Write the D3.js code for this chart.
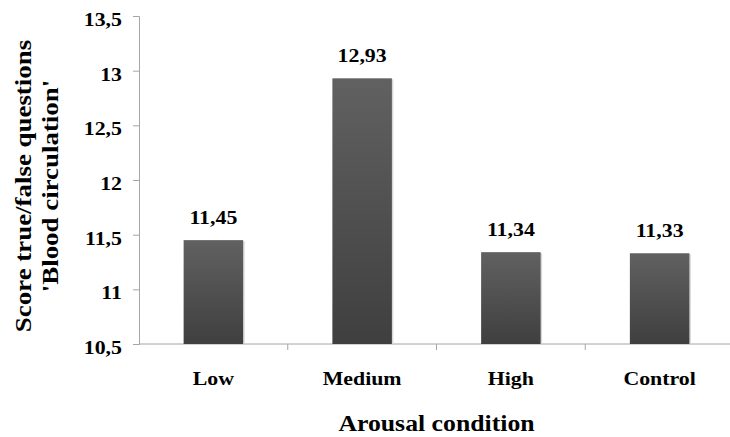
<!DOCTYPE html>
<html>
<head>
<meta charset="utf-8">
<script src="https://cdn.jsdelivr.net/npm/d3@7"></script>
<style>
  body { margin: 0; background: #fff; }
</style>
</head>
<body>
<div id="chart"></div>
<script>
var categories = ["Low", "Medium", "High", "Control"];
var scores = [11.45, 12.93, 11.34, 11.33];
var valueLabels = ["11,45", "12,93", "11,34", "11,33"];
var yTicks = [10.5, 11, 11.5, 12, 12.5, 13, 13.5];

var width = 730, height = 437;
var margin = {left: 139, right: -4, top: 16, bottom: 93};
var serif = "'Liberation Serif'";
var stretch = 1.15; // the original font is wider than Liberation Serif

var svg = d3.select("#chart").append("svg")
    .attr("width", width)
    .attr("height", height);

var defs = svg.append("defs");
var grad = defs.append("linearGradient")
    .attr("id", "barGrad")
    .attr("x1", 0).attr("y1", 0).attr("x2", 0).attr("y2", 1);
grad.append("stop").attr("offset", "0%").attr("stop-color", "#616161");
grad.append("stop").attr("offset", "100%").attr("stop-color", "#3f3f3f");

var x = d3.scaleBand()
    .domain(categories)
    .range([margin.left, width - margin.right])
    .paddingInner(0.6)
    .paddingOuter(0.3);

var y = d3.scaleLinear()
    .domain([10.5, 13.5])
    .range([height - margin.bottom, margin.top]);

var fmt = function(d) { return String(d).replace(".", ","); };

function serifText(sel, size) {
  sel.style("font-family", serif)
     .style("font-weight", "bold")
     .style("font-size", size + "px")
     .attr("fill", "#000");
}

// text placed at (px, py), widened along its own direction
function label(parent, px, py, size, s, anchor, str) {
  return parent.append("text")
      .attr("transform", "translate(" + px + "," + py + ") scale(" + s + ",1)")
      .attr("text-anchor", anchor)
      .call(serifText, size)
      .text(str);
}

// y axis
var yAxis = svg.append("g")
    .attr("transform", "translate(" + margin.left + ",0)")
    .call(d3.axisLeft(y).tickValues(yTicks).tickFormat(fmt).tickSize(6).tickPadding(11));
yAxis.selectAll("line, path").attr("stroke", "#a6a6a6");
yAxis.selectAll("text")
    .attr("x", 0).attr("dy", "0.5em")
    .attr("transform", "translate(-17,0) scale(" + stretch + ",1)")
    .call(serifText, 19);

// x axis, ticks sit between categories
var step = x.step();
var bounds = d3.range(categories.length + 1).map(function(i) { return margin.left + i * step; });
var xg = svg.append("g");
xg.append("line")
    .attr("x1", margin.left).attr("x2", width)
    .attr("y1", y(10.5)).attr("y2", y(10.5))
    .attr("stroke", "#a6a6a6");
xg.selectAll(".xt").data(bounds.slice(1, -1)).enter().append("line")
    .attr("x1", function(d) { return d; }).attr("x2", function(d) { return d; })
    .attr("y1", y(10.5)).attr("y2", y(10.5) + 6)
    .attr("stroke", "#a6a6a6");
categories.forEach(function(c) {
  label(xg, x(c) + x.bandwidth() / 2, y(10.5) + 41, 19, stretch, "middle", c);
});

// bars
svg.selectAll(".shadow").data(scores).enter().append("rect")
    .attr("x", function(d, i) { return x(categories[i]) + 1.5; })
    .attr("y", function(d) { return y(d) + 1; })
    .attr("width", x.bandwidth())
    .attr("height", function(d) { return y(10.5) - y(d) - 1; })
    .attr("fill", "#d8d8d8");

svg.selectAll(".bar").data(scores).enter().append("rect")
    .attr("class", "bar")
    .attr("x", function(d, i) { return x(categories[i]); })
    .attr("y", function(d) { return y(d); })
    .attr("width", x.bandwidth())
    .attr("height", function(d) { return y(10.5) - y(d); })
    .attr("fill", "url(#barGrad)");

var vals = svg.append("g");
scores.forEach(function(d, i) {
  label(vals, x(categories[i]) + x.bandwidth() / 2, y(d) - 16, 19, stretch, "middle", valueLabels[i]);
});

// titles
label(svg, (margin.left + width - margin.right) / 2, 431, 23, 1.12, "middle", "Arousal condition");

var yt = svg.append("text")
    .attr("transform", "translate(0,186) rotate(-90) scale(1.17,1)")
    .attr("text-anchor", "middle")
    .call(serifText, 23);
yt.append("tspan").attr("x", 0).attr("y", 31).text("Score true/false questions");
yt.append("tspan").attr("x", 0).attr("y", 58).text("'Blood circulation'");
</script>
</body>
</html>
